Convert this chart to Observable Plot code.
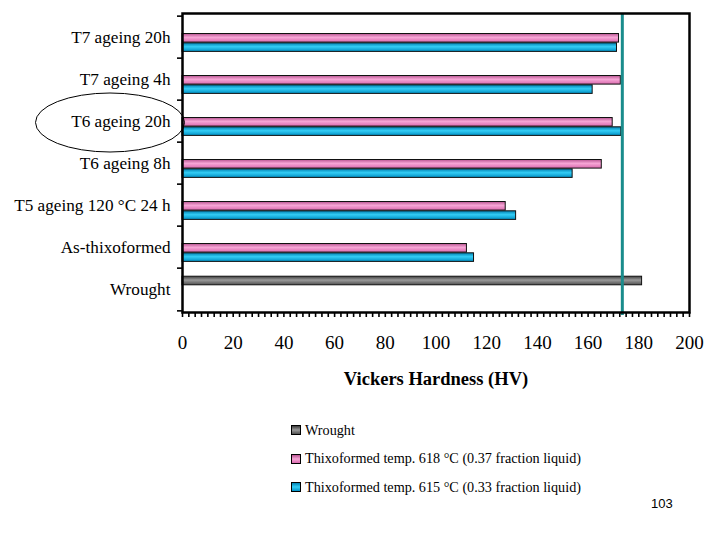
<!DOCTYPE html>
<html><head><meta charset="utf-8">
<script src="https://cdn.jsdelivr.net/npm/d3@7"></script>
<script src="https://cdn.jsdelivr.net/npm/@observablehq/plot@0.6"></script>
<style>
body{margin:0;background:#fff;}
#wrap{position:relative;width:720px;height:540px;overflow:hidden;font-family:"Liberation Serif","Times New Roman",serif;background:#fff;}
#legend{position:absolute;left:291px;top:416px;}
.row{display:flex;align-items:center;height:28.5px;font-size:14.2px;color:#000;}
.sw{width:8px;height:8px;border:1px solid #000;margin-right:4px;}
#page{position:absolute;left:651px;top:496px;font-family:"Liberation Sans",Arial,sans-serif;font-size:13px;color:#000;}
</style></head><body><div id="wrap"><div id="chart"></div><div id="legend"></div><div id="page">103</div></div>
<script>
const categories = ["T7 ageing 20h","T7 ageing 4h","T6 ageing 20h","T6 ageing 8h","T5 ageing 120 °C 24 h","As-thixoformed","Wrought"];
const wroughtHV  = [null, null, null, null, null, null, 181.3];
const thixo618HV = [172.2, 172.9, 169.7, 165.4, 127.5, 112.2, null];
const thixo615HV = [171.4, 161.8, 173.1, 153.9, 131.6, 115.0, null];
const referenceHV = [173.5];
const xTicks = [0,20,40,60,80,100,120,140,160,180,200];
const seriesNames = ["Wrought","Thixoformed temp. 618 °C (0.37 fraction liquid)","Thixoformed temp. 615 °C (0.33 fraction liquid)"];
const highlighted = "T6 ageing 20h";

const seriesValues = [wroughtHV, thixo618HV, thixo615HV];
const rows = [];
categories.forEach((c, i) => seriesValues.forEach((arr, s) => {
  if (arr[i] != null) rows.push({category: c, series: s, value: arr[i]});
}));

const serif = '"Liberation Serif","Times New Roman",serif';
const W = 720, H = 400, mt = 13, mb = 88, ml = 182, mr = 31;
const bw = (H - mt - mb) / categories.length;
const barH = 9.3;
const inset = (bw - barH) / 2;
const offsets = [-8.5, 0.8, 10.1];
const gradIds = ["gWrought","gPink","gBlue"];

const barMarks = [0,1,2].map(s => Plot.barX(rows.filter(d => d.series === s), {
  x: "value", y: "category", fill: `url(#${gradIds[s]})`, stroke: "#111", strokeWidth: 1,
  insetTop: inset, insetBottom: inset, dy: offsets[s]
}));

const plot = Plot.plot({
  width: W, height: H, marginTop: mt, marginBottom: mb, marginLeft: ml, marginRight: mr,
  style: {fontFamily: serif, fontSize: "17px", background: "#fff", color: "#000"},
  x: {domain: [0, 200]},
  y: {domain: categories, padding: 0},
  marks: [
    ...barMarks,
    Plot.ruleX(referenceHV, {stroke: "#1a8c8c", strokeWidth: 3, insetBottom: -3}),
    Plot.frame({stroke: "#000", strokeWidth: 2.5}),
    Plot.axisX({ticks: d3.range(0, 200.01, 2.5), tickSize: 5, tickFormat: () => "", strokeWidth: 1.6, label: null}),
    Plot.axisX({ticks: xTicks, tickSize: 0, tickPadding: 23, fontSize: 19, fontFamily: serif, label: null}),
    Plot.axisY({tickSize: 0, tickPadding: 12, fontSize: 17.2, fontFamily: serif, label: null}),
    Plot.axisY({tickSize: 5, tickFormat: () => "", strokeWidth: 1.6, dy: -bw / 2, label: null}),
    Plot.axisY({ticks: [categories[categories.length - 1]], tickSize: 5, tickFormat: () => "", strokeWidth: 1.6, dy: bw / 2, label: null}),
    Plot.text(["Vickers Hardness (HV)"], {frameAnchor: "bottom", dy: 72, fontWeight: "bold", fontSize: 18.5, fontFamily: serif})
  ]
});

const svg = d3.select(plot);
const defs = svg.insert("defs", ":first-child");
const gradStops = [
  ["#3c3c3c", "#9a9a9a", "#505050"],
  ["#b85592", "#f7a6d6", "#d96aae"],
  ["#0080b0", "#33cdf5", "#0090c4"]
];
gradIds.forEach((id, s) => {
  const g = defs.append("linearGradient").attr("id", id).attr("x1", 0).attr("y1", 0).attr("x2", 0).attr("y2", 1);
  g.append("stop").attr("offset", "0%").attr("stop-color", gradStops[s][0]);
  g.append("stop").attr("offset", "45%").attr("stop-color", gradStops[s][1]);
  g.append("stop").attr("offset", "100%").attr("stop-color", gradStops[s][2]);
});

// ellipse annotation around the highlighted category label
const ys = plot.scale("y");
const cy = ys.apply(highlighted) + ys.bandwidth / 2 + 1.5;
svg.append("ellipse").attr("cx", 110).attr("cy", cy).attr("rx", 74.5).attr("ry", 29.5)
  .attr("fill", "none").attr("stroke", "#000").attr("stroke-width", 1);

document.getElementById("chart").appendChild(plot);

const legend = d3.select("#legend");
seriesNames.forEach((name, s) => {
  const row = legend.append("div").attr("class", "row");
  row.append("div").attr("class", "sw").style("background", `linear-gradient(${gradStops[s][0]}, ${gradStops[s][1]}, ${gradStops[s][2]})`);
  row.append("span").text(name);
});
</script></body></html>
